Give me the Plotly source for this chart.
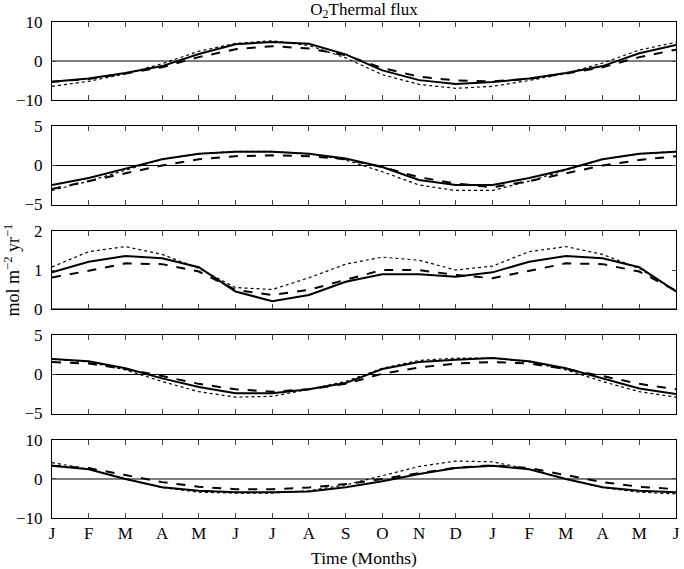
import plotly.graph_objects as go
from plotly.subplots import make_subplots

months = ['J', 'F', 'M', 'A', 'M', 'J', 'J', 'A', 'S', 'O', 'N', 'D',
          'J', 'F', 'M', 'A', 'M', 'J']
x = list(range(len(months)))

# panel 1 (-10..10)
p1_solid = [-5.3, -4.5, -3.1, -1.3, 1.8, 4.3, 4.9, 4.4, 1.7, -2.4, -4.9, -5.9,
            -5.4, -4.5, -3.1, -1.3, 2.0, 4.1]
p1_dash = [-5.3, -4.6, -3.2, -1.6, 1.0, 3.0, 3.8, 3.2, 1.5, -1.8, -4.0, -5.0,
           -5.2, -4.6, -3.2, -1.6, 1.0, 2.9]
p1_dot = [-6.5, -5.2, -3.3, -0.7, 2.5, 4.5, 5.2, 4.0, 0.8, -3.5, -6.0, -7.0,
          -6.5, -5.0, -3.2, -0.5, 2.8, 4.8]

# panel 2 (-5..5)
p2_solid = [-2.5, -1.6, -0.4, 0.8, 1.5, 1.75, 1.75, 1.5, 0.9, -0.2, -1.85, -2.5,
            -2.5, -1.6, -0.5, 0.8, 1.5, 1.75]
p2_dash = [-3.0, -2.0, -1.0, 0.0, 0.8, 1.2, 1.3, 1.2, 0.8, -0.2, -1.5, -2.3,
           -2.8, -2.0, -1.0, 0.0, 0.7, 1.2]
p2_dot = [-3.2, -2.0, -0.6, 0.8, 1.5, 1.8, 1.8, 1.5, 0.7, -0.8, -2.5, -3.2,
          -3.2, -2.0, -0.6, 0.8, 1.5, 1.8]

# panel 3 (0..2)
p3_solid = [0.94, 1.21, 1.36, 1.30, 1.07, 0.45, 0.20, 0.36, 0.70, 0.89, 0.89, 0.83,
            0.94, 1.21, 1.36, 1.30, 1.07, 0.45]
p3_dash = [0.81, 0.98, 1.17, 1.15, 0.96, 0.49, 0.36, 0.49, 0.75, 1.0, 1.0, 0.87,
           0.79, 0.98, 1.17, 1.15, 0.96, 0.47]
p3_dot = [1.08, 1.47, 1.60, 1.40, 1.04, 0.55, 0.50, 0.80, 1.15, 1.33, 1.25, 1.0,
          1.10, 1.47, 1.60, 1.40, 1.04, 0.45]

# panel 4 (-5..5)
p4_solid = [2.0, 1.7, 0.8, -0.5, -1.6, -2.4, -2.4, -1.9, -1.1, 0.7, 1.6, 1.9,
            2.1, 1.7, 0.8, -0.5, -1.8, -2.5]
p4_dash = [1.6, 1.4, 0.7, -0.2, -1.2, -1.9, -2.2, -1.9, -1.2, 0.1, 0.9, 1.4,
           1.6, 1.4, 0.7, -0.2, -1.2, -1.9]
p4_dot = [2.0, 1.6, 0.6, -0.9, -2.2, -2.9, -2.8, -1.9, -0.9, 0.8, 1.8, 2.1,
          2.1, 1.6, 0.6, -0.9, -2.2, -2.9]

# panel 5 (-10..10)
p5_solid = [3.4, 2.5, 0.0, -2.1, -3.0, -3.4, -3.4, -3.2, -2.1, -0.6, 1.3, 2.8,
            3.4, 2.5, 0.0, -2.1, -3.0, -3.4]
p5_dash = [3.4, 2.8, 1.0, -0.8, -2.0, -2.6, -2.6, -2.2, -1.3, 0.0, 1.5, 2.9,
           3.5, 2.8, 1.0, -0.8, -2.0, -2.6]
p5_dot = [4.2, 2.5, 0.0, -2.2, -3.4, -3.6, -3.6, -3.0, -1.5, 0.8, 3.2, 4.6,
          4.4, 2.5, 0.0, -2.2, -3.4, -3.8]

panels = [
    (p1_solid, p1_dash, p1_dot, [-10, 10], [-10, 0, 10]),
    (p2_solid, p2_dash, p2_dot, [-5, 5], [-5, 0, 5]),
    (p3_solid, p3_dash, p3_dot, [0, 2], [0, 1, 2]),
    (p4_solid, p4_dash, p4_dot, [-5, 5], [-5, 0, 5]),
    (p5_solid, p5_dash, p5_dot, [-10, 10], [-10, 0, 10]),
]

fig = make_subplots(rows=5, cols=1, shared_xaxes=True, vertical_spacing=0.0534)

for i, (s, d, o, yr, yt) in enumerate(panels):
    row = i + 1
    # zero line
    fig.add_trace(go.Scatter(x=[x[0], x[-1]], y=[0, 0], mode='lines',
                             line=dict(color='black', width=1)), row=row, col=1)
    fig.add_trace(go.Scatter(x=x, y=o, mode='lines',
                             line=dict(color='black', width=1.2, dash='dot')), row=row, col=1)
    fig.add_trace(go.Scatter(x=x, y=d, mode='lines',
                             line=dict(color='black', width=2, dash='dash')), row=row, col=1)
    fig.add_trace(go.Scatter(x=x, y=s, mode='lines',
                             line=dict(color='black', width=2)), row=row, col=1)
    fig.update_yaxes(range=yr, tickvals=yt, ticks='inside', ticklen=4,
                     ticklabelstandoff=5,
                     showline=True, mirror='ticks', linecolor='black', linewidth=1,
                     showgrid=False, zeroline=False, row=row, col=1)
    fig.update_xaxes(range=[0, 17], tickvals=x, ticktext=months, ticks='inside',
                     ticklen=5, showline=True, mirror='ticks', linecolor='black',
                     linewidth=1, showgrid=False, zeroline=False, row=row, col=1)

fig.update_xaxes(title_text='Time (Months)', title_standoff=9,
                 title_font=dict(size=17.5), row=5, col=1)
fig.update_yaxes(title_text='mol m<sup>\u22122</sup> yr<sup>\u22121</sup>',
                 title_standoff=9, title_font=dict(size=18), row=3, col=1)

fig.update_layout(
    width=684, height=569,
    margin=dict(l=52, r=4, t=22, b=51),
    showlegend=False,
    plot_bgcolor='white', paper_bgcolor='white',
    font=dict(family='Liberation Serif', size=17, color='black'),
    title=dict(text='O<sub>2</sub>Thermal flux', x=0.5, xref='paper',
               y=0.985, yref='container', yanchor='middle',
               font=dict(size=17)),
)

# page has an 8px body margin by default; drop it so the figure sits at 0,0
fig.write_html("out.html", config={'displayModeBar': False},
               post_script="document.body.style.margin='0';")
